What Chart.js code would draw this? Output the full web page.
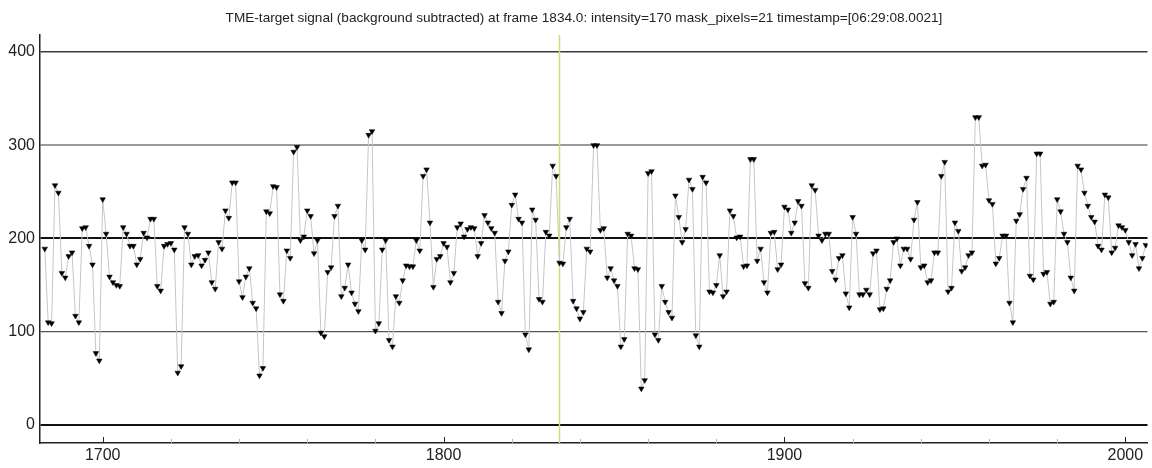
<!DOCTYPE html>
<html lang="en">
<head>
    <meta charset="UTF-8">
    <title>TME-target signal</title>
    <script src="https://cdn.jsdelivr.net/npm/chart.js"></script>
    <style>
        html, body {
            margin: 0;
            padding: 0;
            background: #fff;
        }
        canvas {
            display: block;
        }
    </style>
</head>
<body>
    <canvas id="signalChart" width="1152" height="468"></canvas>

    <script>
        // frames run from startFrame, one value per frame
        const startFrame = 1683;
        const signal = [
            189, 110, 109, 257, 249, 163, 158, 181, 185, 117, 110, 211, 212, 192, 172, 77, 69, 242, 205, 159,
            153, 150, 149, 212, 205, 192, 192, 172, 178, 206, 201, 221, 221, 149, 144, 192, 194, 195, 188, 56,
            63, 212, 205, 172, 181, 182, 171, 177, 185, 153, 146, 196, 189, 230, 222, 260, 260, 154, 137, 159,
            168, 131, 125, 53, 61, 229, 227, 256, 255, 140, 133, 187, 179, 293, 298, 198, 202, 230, 224, 184,
            198, 99, 95, 164, 169, 224, 235, 138, 147, 172, 142, 130, 122, 198, 188, 311, 315, 101, 109, 188,
            198, 91, 84, 138, 131, 155, 171, 170, 170, 198, 187, 267, 274, 217, 148, 178, 181, 195, 191, 153,
            163, 212, 216, 202, 210, 212, 211, 181, 195, 225, 217, 211, 206, 132, 120, 176, 186, 236, 247, 221,
            217, 97, 81, 231, 220, 135, 132, 207, 203, 278, 267, 174, 173, 212, 221, 133, 125, 114, 121, 189,
            186, 300, 300, 209, 211, 158, 168, 155, 149, 84, 92, 205, 203, 168, 167, 39, 48, 270, 272, 97,
            91, 149, 132, 121, 115, 246, 223, 196, 210, 263, 253, 96, 84, 266, 260, 143, 142, 150, 182, 138,
            143, 230, 224, 201, 202, 170, 171, 285, 285, 176, 189, 153, 142, 206, 207, 167, 172, 234, 231, 206,
            217, 240, 235, 152, 147, 257, 252, 203, 198, 205, 205, 165, 156, 179, 182, 141, 126, 223, 205, 140,
            140, 145, 140, 184, 187, 124, 125, 146, 155, 196, 200, 171, 189, 189, 178, 220, 239, 169, 171, 153,
            155, 185, 185, 267, 282, 143, 147, 217, 208, 165, 169, 182, 185, 330, 330, 278, 279, 241, 237, 173,
            179, 203, 203, 131, 110, 219, 226, 253, 265, 160, 156, 291, 291, 162, 164, 130, 132, 242, 229, 205,
            196, 158, 144, 278, 274, 249, 235, 223, 218, 192, 188, 247, 244, 185, 190, 214, 212, 209, 196, 182,
            194, 168, 179, 193
        ];
        const currentFrame = 1834;
        const yTicks = [0, 100, 200, 300, 400];
        const xLabels = [1700, 1800, 1900, 2000];
        const minorStep = 20;
        const titleText = 'TME-target signal (background subtracted) at frame 1834.0: intensity=170 mask_pixels=21 timestamp=[06:29:08.0021]';

        const points = signal.map((v, i) => ({ x: startFrame + i, y: v }));

        // grid lines in the original are not all the same shade
        const gridStyle = {
            0: ['#111', 2],
            100: ['#555', 1.2],
            200: ['#111', 2],
            300: ['#9a9a9a', 2],
            400: ['#3a3a3a', 1.5]
        };

        const titlePlugin = {
            id: 'frameTitle',
            afterDraw(chart) {
                const c = chart.ctx;
                c.save();
                c.font = '13px Arial';
                const w = c.measureText(titleText).width;
                const size = Math.min(15, 13 * 717 / w);
                c.font = size.toFixed(2) + 'px Arial';
                c.fillStyle = '#222';
                c.textAlign = 'center';
                c.textBaseline = 'middle';
                c.fillText(titleText, 584, 18);
                c.restore();
            }
        };

        const frameLine = {
            id: 'frameLine',
            beforeDatasetsDraw(chart) {
                const { ctx, chartArea: a, scales: { x } } = chart;
                const px = x.getPixelForValue(currentFrame);
                ctx.save();
                ctx.strokeStyle = '#d2dc78';
                ctx.lineWidth = 1.5;
                ctx.beginPath();
                ctx.moveTo(px, a.top);
                ctx.lineTo(px, a.bottom);
                ctx.stroke();
                ctx.restore();
            }
        };

        // tick marks point up into the plot, so draw them by hand
        const innerTicks = {
            id: 'innerTicks',
            afterDraw(chart) {
                const { ctx, chartArea: a, scales: { x } } = chart;
                ctx.save();
                for (let f = xLabels[0]; f <= xLabels[xLabels.length - 1]; f += minorStep) {
                    const major = xLabels.includes(f);
                    const px = Math.round(x.getPixelForValue(f)) + 0.5;
                    ctx.strokeStyle = major ? '#222' : '#b4b4b4';
                    ctx.lineWidth = 1;
                    ctx.beginPath();
                    ctx.moveTo(px, a.bottom);
                    ctx.lineTo(px, a.bottom - (major ? 6 : 4));
                    ctx.stroke();
                }
                ctx.restore();
            }
        };

        new Chart(document.getElementById('signalChart').getContext('2d'), {
            type: 'line',
            data: {
                datasets: [{
                    label: 'signal',
                    data: points,
                    borderColor: '#c6c6c6',
                    borderWidth: 1,
                    tension: 0,
                    fill: false,
                    pointStyle: 'triangle',
                    rotation: 180,
                    pointRadius: 3.2,
                    pointBackgroundColor: '#000',
                    pointBorderColor: '#000',
                    pointBorderWidth: 0.5
                }]
            },
            options: {
                responsive: false,
                devicePixelRatio: 1,
                animation: false,
                layout: { padding: { top: 35, right: 4, left: 0, bottom: 0 } },
                plugins: {
                    legend: { display: false },
                    tooltip: { enabled: false }
                },
                scales: {
                    x: {
                        type: 'linear',
                        min: 1681.6,
                        max: 2006.5,
                        afterBuildTicks: s => { s.ticks = xLabels.map(v => ({ value: v })); },
                        afterFit: s => { s.height = 25; },
                        grid: { display: false, drawTicks: false },
                        border: { display: true, color: '#222', width: 1.5 },
                        ticks: {
                            font: { family: 'Arial', size: 16 },
                            color: '#222',
                            padding: 3,
                            maxRotation: 0,
                            autoSkip: false,
                            callback: v => String(v)
                        }
                    },
                    y: {
                        min: -19.3,
                        max: 418.2,
                        afterBuildTicks: s => { s.ticks = yTicks.map(v => ({ value: v })); },
                        afterFit: s => { s.width = 40; },
                        grid: {
                            drawTicks: false,
                            color: ctx => (gridStyle[ctx.tick.value] || ['#555'])[0],
                            lineWidth: ctx => (gridStyle[ctx.tick.value] || [0, 1])[1]
                        },
                        border: { display: true, color: '#222', width: 1.5 },
                        ticks: {
                            font: { family: 'Arial', size: 16 },
                            color: '#222',
                            padding: 5,
                            callback: v => String(v)
                        }
                    }
                }
            },
            plugins: [frameLine, innerTicks, titlePlugin]
        });
    </script>
</body>
</html>
